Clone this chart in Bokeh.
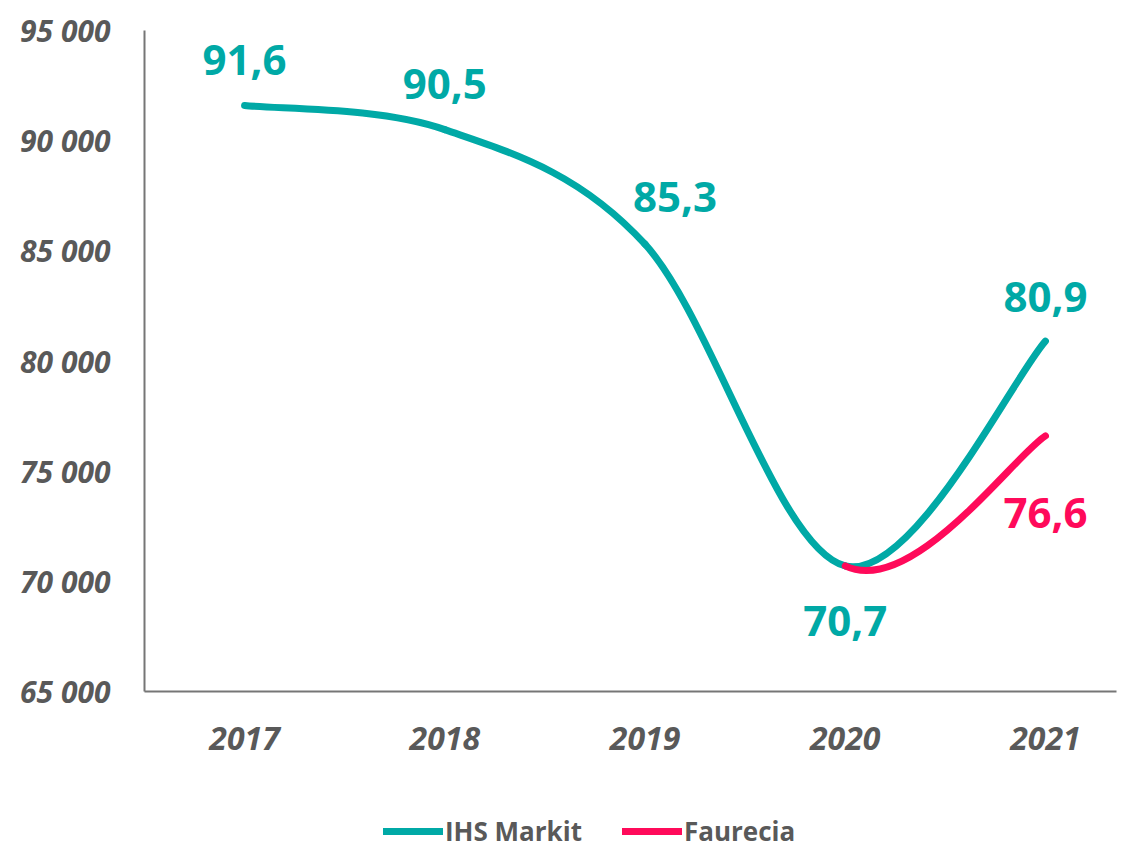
from bokeh.plotting import figure
from bokeh.layouts import column
from bokeh.models import ColumnDataSource, FixedTicker, Legend, LegendItem
from bokeh.core.properties import value
from bokeh.embed import file_html
from bokeh.resources import INLINE

# ---- data ----
years = [2017, 2018, 2019, 2020, 2021]
ihs_markit = [91600, 90500, 85300, 70700, 80900]
faurecia = [None, None, None, 70700, 76600]
y_ticks = [65000, 70000, 75000, 80000, 85000, 90000, 95000]

TEAL = "#00A9A6"
PINK = "#FF0A5A"
GRAY = "#595959"
FONT = "Open Sans"


def smooth_segments(xs, ys, fallback=None):
    """Cubic Bezier control points (Catmull-Rom style, like Excel smoothing)."""
    pts = [(x, y) for x, y in zip(xs, ys)]
    idx = [i for i, (_, y) in enumerate(pts) if y is not None]
    seg = dict(x0=[], y0=[], x1=[], y1=[], cx0=[], cy0=[], cx1=[], cy1=[])

    def get(i):
        if 0 <= i < len(pts) and pts[i][1] is not None:
            return pts[i]
        if fallback is not None and 0 <= i < len(pts):
            return (xs[i], fallback[i])
        return None

    for a, b in zip(idx[:-1], idx[1:]):
        p1, p2 = pts[a], pts[b]
        p0 = get(a - 1) or p1
        p3 = get(b + 1) or p2
        seg["x0"].append(p1[0]); seg["y0"].append(p1[1])
        seg["x1"].append(p2[0]); seg["y1"].append(p2[1])
        seg["cx0"].append(p1[0] + (p2[0] - p0[0]) / 6)
        seg["cy0"].append(p1[1] + (p2[1] - p0[1]) / 6)
        seg["cx1"].append(p2[0] - (p3[0] - p1[0]) / 6)
        seg["cy1"].append(p2[1] - (p3[1] - p1[1]) / 6)
    return seg


p = figure(
    frame_width=972, frame_height=661,
    x_range=(2016.5, 2021.355), y_range=(y_ticks[0], y_ticks[-1]),
    output_backend="svg", toolbar_location=None,
    min_border_left=144, min_border_top=30, min_border_right=2, min_border_bottom=97,
)
p.outline_line_color = None
p.xgrid.visible = False
p.ygrid.visible = False

ihs_src = ColumnDataSource(smooth_segments(years, ihs_markit))
fau_src = ColumnDataSource(smooth_segments(years, faurecia, fallback=ihs_markit))

bez = dict(x0="x0", y0="y0", x1="x1", y1="y1", cx0="cx0", cy0="cy0",
           cx1="cx1", cy1="cy1", line_width=7, line_cap="round")
p.bezier(source=ihs_src, line_color=TEAL, **bez)
p.bezier(source=fau_src, line_color=PINK, **bez)

# data labels
ihs_dx = [0, 0, 30, 0, 0]
ihs_dy = [-45, -46, -47, 55, -44]
lab_src = ColumnDataSource(dict(
    x=years, y=ihs_markit,
    t=[f"{v/1000:.1f}".replace(".", ",") for v in ihs_markit],
    dx=ihs_dx, dy=ihs_dy,
))
p.text(x="x", y="y", text="t", x_offset="dx", y_offset="dy", source=lab_src,
       text_font=value(FONT), text_font_style="bold", text_font_size="42px",
       text_color=TEAL, text_align="center", text_baseline="middle")

fau_x = [x for x, v in zip(years, faurecia) if v is not None][-1:]
fau_v = [v for v in faurecia if v is not None][-1:]
fau_lab = ColumnDataSource(dict(
    x=fau_x, y=fau_v,
    t=[f"{v/1000:.1f}".replace(".", ",") for v in fau_v],
))
p.text(x="x", y="y", text="t", x_offset=0, y_offset=77, source=fau_lab,
       text_font=value(FONT), text_font_style="bold", text_font_size="42px",
       text_color=PINK, text_align="center", text_baseline="middle")

# axes
for ax in (p.xaxis[0], p.yaxis[0]):
    ax.axis_line_color = "#767676"
    ax.axis_line_width = 2
    ax.major_tick_line_color = None
    ax.minor_tick_line_color = None
    ax.major_label_text_font = FONT
    ax.major_label_text_font_style = "bold italic"
    ax.major_label_text_color = GRAY

p.yaxis.ticker = FixedTicker(ticks=y_ticks)
p.yaxis.major_label_overrides = {t: f"{t:,}".replace(",", " ") for t in y_ticks}
p.yaxis.major_label_text_font_size = "30px"
p.yaxis.major_label_standoff = 28

p.xaxis.ticker = FixedTicker(ticks=years)
p.xaxis.major_label_overrides = {y: str(y) for y in years}
p.xaxis.major_label_text_font_size = "32px"
p.xaxis.major_label_standoff = 29

# ---- legend strip (same series, drawn off-range so only the legend shows) ----
lg = figure(
    frame_width=1118, frame_height=61, x_range=(0, 1), y_range=(0, 1),
    x_axis_location=None, y_axis_location=None,
    output_backend="svg", toolbar_location=None, min_border=0,
)
lg.outline_line_color = None
lg.xgrid.visible = False
lg.ygrid.visible = False
l_ihs = lg.bezier(source=ihs_src, line_color=TEAL, **bez)
l_fau = lg.bezier(source=fau_src, line_color=PINK, **bez)

legend = Legend(
    items=[LegendItem(label="IHS Markit", renderers=[l_ihs]),
           LegendItem(label="Faurecia", renderers=[l_fau])],
    orientation="horizontal", location=(383, 0),
    label_text_font=FONT, label_text_font_style="bold",
    label_text_font_size="26px", label_text_color=GRAY,
    glyph_width=60, glyph_height=20, label_standoff=2, spacing=40,
    border_line_color=None, background_fill_alpha=0, margin=0, padding=0,
)
lg.add_layout(legend, "center")

open("out.html", "w").write(file_html(column(p, lg, spacing=0), INLINE))
